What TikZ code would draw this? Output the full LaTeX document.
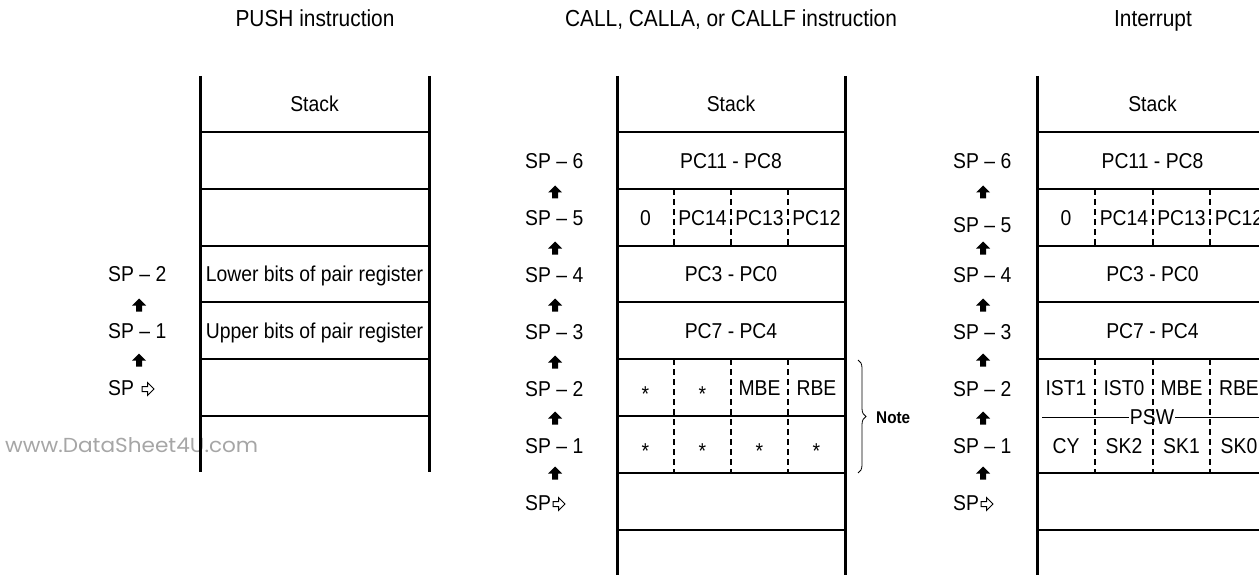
\documentclass[tikz,border=0pt]{standalone}
\usepackage{fontspec}
\usepackage{graphicx}
\setmainfont[FakeStretch=0.9]{Liberation Sans}
\newfontfamily\wmfont{Poppins}
\usetikzlibrary{decorations.pathreplacing}
\newcommand\cellfont{\fontsize{21.5}{25}\selectfont}
\newcommand\titlefont{\fontsize{23.2}{27}\selectfont}
\begin{document}
\begin{tikzpicture}[x=1pt,y=-1pt,
  vline/.style={line width=3pt},
  hline/.style={line width=1.8pt},
  thinline/.style={line width=1pt},
  dline/.style={line width=1.6pt, dash pattern=on 6pt off 4pt},
  cell/.style={font=\cellfont, inner sep=0pt, text height=15.4pt, text depth=0pt, anchor=center},
  lbl/.style={cell, anchor=west},
  startext/.style={font=\cellfont, inner sep=0pt, anchor=center},
  title/.style={font=\titlefont, inner sep=0pt, text height=16.6pt, text depth=0pt, anchor=center},
  sparrowup/.pic={\fill (0,-6.5) -- (7,0.5) -- (3,0.5) -- (3,6.5) -- (-3,6.5) -- (-3,0.5) -- (-7,0.5) -- cycle;},
  spptr/.pic={\draw[line width=1pt, line join=miter] (0,-2.5) -- (5.5,-2.5) -- (5.5,-6.5) -- (12,0) -- (5.5,6.5) -- (5.5,2.5) -- (0,2.5) -- cycle;}
]
\useasboundingbox (0,0) rectangle (1259,575);
\clip (0,0) rectangle (1259,575);

% titles
\node[title] (t1) at (315,18) {PUSH instruction};
\node[title] (t2) at (731,18) {CALL, CALLA, or CALLF instruction};
\node[title] (t3) at (1153,18) {Interrupt};

% watermark
\node[inner sep=0pt, anchor=west, text=black!35] (wm) at (5,445) {\resizebox{253pt}{15pt}{\wmfont www.DataSheet4U.com}};

% ---------- left stack ----------
\draw[vline] (200,76) -- (200,472);
\draw[vline] (429,76) -- (429,472);
\foreach \yy in {132,189,246,302,359,416} \draw[hline] (200,\yy) -- (429,\yy);
\node[cell] (ls) at (314.5,104) {Stack};
\node[cell] (lr2) at (314.5,274) {Lower bits of pair register};
\node[cell] (lr1) at (314.5,331) {Upper bits of pair register};
\node[lbl] (ll2) at (108,274) {SP \textendash\ 2};
\node[lbl] (ll1) at (108,331) {SP \textendash\ 1};
\node[lbl] (ll0) at (108,388) {SP};
\pic at (139,305) {sparrowup};
\pic at (139,360) {sparrowup};
\pic at (142,389) {spptr};

% ---------- middle stack ----------
\draw[vline] (617,76) -- (617,575);
\draw[vline] (845,76) -- (845,575);
\foreach \yy in {132,189,246,302,359,416,473,530} \draw[hline] (617,\yy) -- (845,\yy);
\foreach \xx in {674,731,788} {
  \draw[dline] (\xx,189) -- (\xx,246);
  \draw[dline] (\xx,359) -- (\xx,473);
}
\node[cell] (ms) at (731,104) {Stack};
\node[cell] (m6) at (731,160.5) {PC11 - PC8};
\node[cell] (m5a) at (645.5,217.5) {0};
\node[cell] (m5b) at (702.5,217.5) {PC14};
\node[cell] (m5c) at (759.5,217.5) {PC13};
\node[cell] (m5d) at (816.5,217.5) {PC12};
\node[cell] (m4) at (731,274) {PC3 - PC0};
\node[cell] (m3) at (731,330.5) {PC7 - PC4};
\node[startext] (m2a) at (645.5,394) {*};
\node[startext] (m2b) at (702.5,394) {*};
\node[cell] (m2c) at (759.5,388) {MBE};
\node[cell] (m2d) at (816.5,388) {RBE};
\node[startext] (m1a) at (645.5,451) {*};
\node[startext] (m1b) at (702.5,451) {*};
\node[startext] (m1c) at (759.5,451) {*};
\node[startext] (m1d) at (816.5,451) {*};
\draw[line width=0.8pt, decorate, decoration={brace, amplitude=8pt}] (858,360) -- (858,473);
\node[inner sep=0pt, anchor=west, font=\fontsize{17}{20}\bfseries\selectfont, text height=12pt, text depth=0pt] (note) at (876,417) {Note};
\node[lbl] (ml6) at (525,161) {SP \textendash\ 6};
\node[lbl] (ml5) at (525,218) {SP \textendash\ 5};
\node[lbl] (ml4) at (525,275) {SP \textendash\ 4};
\node[lbl] (ml3) at (525,332) {SP \textendash\ 3};
\node[lbl] (ml2) at (525,389) {SP \textendash\ 2};
\node[lbl] (ml1) at (525,446) {SP \textendash\ 1};
\node[lbl] (ml0) at (525,503) {SP};
\foreach \yy in {192,248,305,362,418,473} \pic at (555,\yy) {sparrowup};
\pic at (553,504) {spptr};

% ---------- right stack ----------
\draw[vline] (1037,76) -- (1037,575);
\foreach \yy in {132,189,246,302,359,473,530} \draw[hline] (1037,\yy) -- (1259,\yy);
\node[cell, fill=white, inner xsep=1pt] (psw) at (1152,417) {PSW};
\draw[thinline] (1042,417) -- (psw.west);
\draw[thinline] (psw.east) -- (1259,417);
\foreach \xx in {1095,1153,1210} {
  \draw[dline] (\xx,189) -- (\xx,246);
  \draw[dline] (\xx,359) -- (\xx,473);
}
\node[cell] (rs) at (1152.5,104) {Stack};
\node[cell] (r6) at (1152.5,160.5) {PC11 - PC8};
\node[cell] (r5a) at (1066,217.5) {0};
\node[cell] (r5b) at (1124,217.5) {PC14};
\node[cell] (r5c) at (1181.5,217.5) {PC13};
\node[cell] (r5d) at (1239,217.5) {PC12};
\node[cell] (r4) at (1152.5,274) {PC3 - PC0};
\node[cell] (r3) at (1152.5,330.5) {PC7 - PC4};
\node[cell] (r2a) at (1066,388) {IST1};
\node[cell] (r2b) at (1124,388) {IST0};
\node[cell] (r2c) at (1181.5,388) {MBE};
\node[cell] (r2d) at (1239,388) {RBE};
\node[cell] (r1a) at (1066,446) {CY};
\node[cell] (r1b) at (1124,446) {SK2};
\node[cell] (r1c) at (1181.5,446) {SK1};
\node[cell] (r1d) at (1239,446) {SK0};
\node[lbl] (rl6) at (953,161) {SP \textendash\ 6};
\node[lbl] (rl5) at (953,225) {SP \textendash\ 5};
\node[lbl] (rl4) at (953,275) {SP \textendash\ 4};
\node[lbl] (rl3) at (953,332) {SP \textendash\ 3};
\node[lbl] (rl2) at (953,389) {SP \textendash\ 2};
\node[lbl] (rl1) at (953,446) {SP \textendash\ 1};
\node[lbl] (rl0) at (953,503) {SP};
\foreach \yy in {192,248,305,360,418,473} \pic at (983,\yy) {sparrowup};
\pic at (981,504) {spptr};
\end{tikzpicture}
\end{document}
